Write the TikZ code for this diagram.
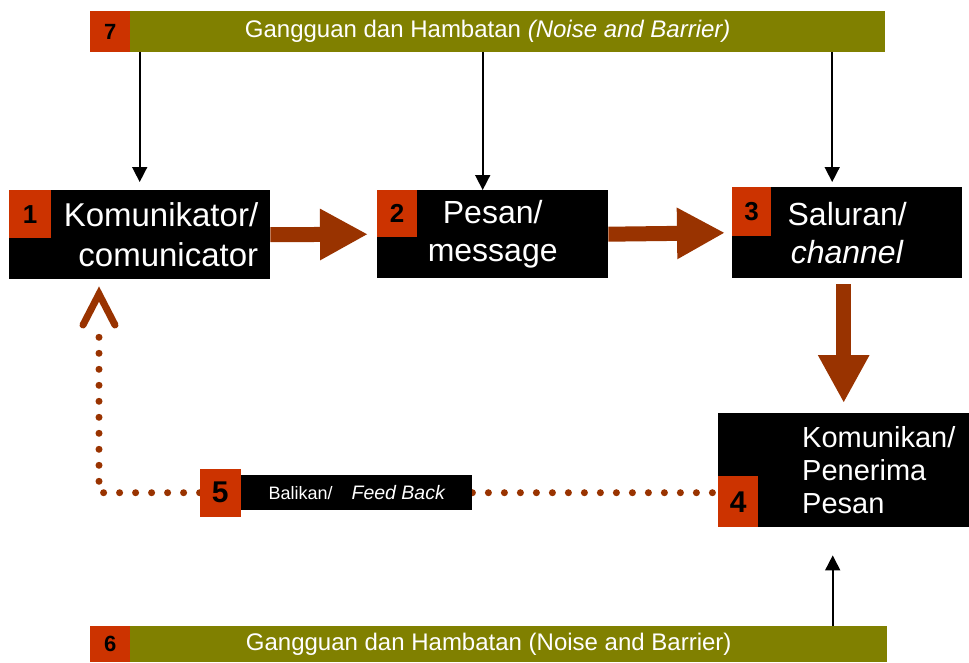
\documentclass[tikz,border=0pt]{standalone}
\usepackage{fontspec}
\setmainfont{Liberation Sans}
\usetikzlibrary{arrows.meta, positioning, backgrounds}
\definecolor{barolive}{RGB}{128,128,0}
\definecolor{numred}{RGB}{204,51,0}
\definecolor{flowbrown}{RGB}{153,51,0}
\tikzset{
    blacknode/.style={rectangle, fill=black, text=white, inner sep=0pt, anchor=north west, align=center, font=\fontsize{32}{38}\selectfont},
    numnode/.style={rectangle, fill=numred, text=black, inner sep=0pt, font=\bfseries\fontsize{26}{26}\selectfont},
    barnode/.style={rectangle, fill=barolive, text=white, inner sep=0pt, anchor=north west, font=\fontsize{24}{24}\selectfont},
    bigarrow/.style={-{Triangle[length=48pt, width=48pt]}, line width=15pt, draw=flowbrown},
    thinarrow/.style={-{Triangle[length=15pt, width=15pt]}, line width=1.6pt},
    fbline/.style={draw=flowbrown, line width=7pt, line cap=round, dash pattern=on 0pt off 16pt},
    fbhead/.style={draw=flowbrown, line width=7pt, line cap=round, line join=miter}
}

\begin{document}
\begin{tikzpicture}[x=1pt, y=-1pt]
    \useasboundingbox (0,0) rectangle (969,662);

        % ------------------
        % nodes
        % ------------------

        \node[barnode, minimum width=795pt, minimum height=41pt] (bar7) at (90,11) {Gangguan dan Hambatan \textit{(Noise and Barrier)}};
        \node[numnode, anchor=north west, minimum width=40pt, minimum height=41pt, font=\bfseries\fontsize{22}{22}\selectfont] (num7) at (bar7.north west) {7};

        \node[blacknode, minimum width=261pt, minimum height=89pt, text width=237pt, align=right, font=\fontsize{33}{40}\selectfont] (box1) at (9,190) {Komunikator/\\comunicator};
        \node[numnode, anchor=north west, minimum width=42pt, minimum height=48pt] (num1) at (box1.north west) {1};

        \node[blacknode, minimum width=231pt, minimum height=88pt] (box2) at (377,190) {Pesan/\\message};
        \node[numnode, anchor=north west, minimum width=40pt, minimum height=47pt] (num2) at (box2.north west) {2};

        \node[blacknode, minimum width=230pt, minimum height=91pt] (box3) at (732,187) {Saluran/\\\textit{channel}};
        \node[numnode, anchor=north west, minimum width=39pt, minimum height=49pt] (num3) at (box3.north west) {3};

        \node[blacknode, minimum width=251pt, minimum height=114pt] (box4) at (718,413) {};
        \node[right=84pt of box4.west, text=white, inner sep=0pt, align=left, font=\fontsize{29}{33}\selectfont] (box4text) {Komunikan/\\Penerima\\Pesan};
        \node[numnode, anchor=south west, minimum width=40pt, minimum height=51pt, font=\bfseries\fontsize{30}{30}\selectfont] (num4) at (box4.south west) {4};

        \node[blacknode, minimum width=231pt, minimum height=35pt, font=\fontsize{18}{18}\selectfont] (box5) at (241,475) {Balikan/\hspace{14pt} {\fontsize{19.5}{19.5}\selectfont\itshape Feed Back}};
        \node[numnode, left=0pt of box5.west, minimum width=41pt, minimum height=48pt, font=\bfseries\fontsize{30}{30}\selectfont] (num5) {5};

        \node[barnode, minimum width=797pt, minimum height=36pt] (bar6) at (90,626) {Gangguan dan Hambatan (Noise and Barrier)};
        \node[numnode, anchor=north west, minimum width=40pt, minimum height=36pt, font=\bfseries\fontsize{22}{22}\selectfont] (num6) at (bar6.north west) {6};

        \coordinate (t1) at ([yshift=8pt]box1.north);
        \coordinate (t2) at ([xshift=-10pt]box2.north);
        \coordinate (t3) at ([xshift=-15pt, yshift=5pt]box3.north);
        \coordinate (t4) at ([xshift=-11pt, yshift=-28pt]box4.south);
        \coordinate (fbtip) at (99,294);
        \coordinate (fbend) at (99,323);

        % ------------------
        % arrows
        % ------------------

        \draw[thinarrow] (t1 |- bar7.south) -- (t1);
        \draw[thinarrow] (t2 |- bar7.south) -- (t2);
        \draw[thinarrow] (t3 |- bar7.south) -- (t3);
        \draw[thinarrow] (t4 |- bar6.north) -- (t4);

        \draw[bigarrow, shorten >=9pt] (box1.east) -- (box2.west);
        \draw[bigarrow, shorten >=7pt] (box2.east) -- (box3.west);
        \draw[bigarrow, shorten <=6pt, shorten >=10pt] (box4.north |- box3.south) -- (box4.north);

        \begin{scope}[on background layer]
            \draw[fbline] (num5.west) -- (num5.west -| fbtip) -- (fbend);
            \draw[fbline] (box5.east) -- (box4.west |- box5.east);
        \end{scope}
        \draw[fbhead] ([xshift=-16pt, yshift=-31pt]fbtip) -- (fbtip) -- ([xshift=16pt, yshift=-31pt]fbtip);

\end{tikzpicture}
\end{document}
